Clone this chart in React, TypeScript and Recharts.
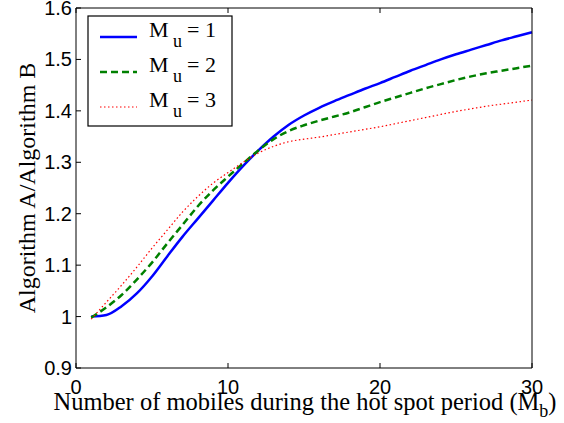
import { LineChart, Line, XAxis, YAxis } from "recharts";

const mobiles = [1, 2, 3, 4, 5, 6, 7, 8, 9, 10, 11, 12, 13, 14, 15, 16, 17, 18, 19, 20, 21, 22, 23, 24, 25, 26, 27, 28, 29, 30];

const mu1 = [1.0, 1.003, 1.02, 1.045, 1.078, 1.117, 1.155, 1.19, 1.225, 1.26, 1.293, 1.323, 1.35, 1.373, 1.391, 1.406, 1.419, 1.431, 1.443, 1.454, 1.466, 1.478, 1.489, 1.5, 1.51, 1.519, 1.528, 1.537, 1.545, 1.553];
const mu2 = [0.998, 1.018, 1.042, 1.072, 1.105, 1.142, 1.178, 1.214, 1.245, 1.272, 1.298, 1.323, 1.345, 1.361, 1.372, 1.381, 1.389, 1.397, 1.407, 1.417, 1.426, 1.435, 1.444, 1.452, 1.46, 1.467, 1.473, 1.478, 1.483, 1.488];
const mu3 = [0.995, 1.028, 1.061, 1.096, 1.133, 1.168, 1.203, 1.233, 1.259, 1.28, 1.3, 1.318, 1.331, 1.34, 1.345, 1.349, 1.354, 1.359, 1.364, 1.369, 1.375, 1.381, 1.387, 1.393, 1.399, 1.404, 1.409, 1.413, 1.417, 1.421];

const xTicks = [0, 10, 20, 30];
const yTicks = [0.9, 1, 1.1, 1.2, 1.3, 1.4, 1.5, 1.6];

const series = [
  { key: "mu1", sub: "1", color: "#0000ff", width: 2.5, dash: undefined },
  { key: "mu2", sub: "2", color: "#008000", width: 2.5, dash: "7 4" },
  { key: "mu3", sub: "3", color: "#ff0000", width: 1.2, dash: "1.5 2.5" },
];

const data = mobiles.map((m, i) => ({ m, mu1: mu1[i], mu2: mu2[i], mu3: mu3[i] }));

const serif = "'Liberation Serif', 'Times New Roman', serif";
const sans = "'Liberation Sans', Arial, sans-serif";

// matlab style: tick marks point into the plot box
function BottomTick(props: any) {
  const { x, y, payload } = props;
  return (
    <g>
      <line x1={x} x2={x} y1={y} y2={y - 5} stroke="#000" />
      <text x={x} y={y + 26} textAnchor="middle" fontFamily={sans} fontSize={20} fill="#000">
        {payload.value}
      </text>
    </g>
  );
}

function LeftTick(props: any) {
  const { x, y, payload } = props;
  return (
    <g>
      <line x1={x} x2={x + 5} y1={y} y2={y} stroke="#000" />
      <text x={x - 4} y={y + 7} textAnchor="end" fontFamily={sans} fontSize={20} fill="#000">
        {payload.value}
      </text>
    </g>
  );
}

function TopTick(props: any) {
  const { x, y } = props;
  return <line x1={x} x2={x} y1={y} y2={y + 5} stroke="#000" />;
}

function RightTick(props: any) {
  const { x, y } = props;
  return <line x1={x} x2={x - 5} y1={y} y2={y} stroke="#000" />;
}

function XLabel(props: any) {
  const vb = props.viewBox || { x: 76, y: 368, width: 456 };
  return (
    <text x={vb.x + vb.width / 2 + 1} y={vb.y + 42} textAnchor="middle" fontFamily={serif} fontSize={24.5} fill="#000">
      Number of mobiles during the hot spot period (M
      <tspan fontSize={18} dy={7}>b</tspan>
      <tspan dy={-7}>)</tspan>
    </text>
  );
}

function YLabel(props: any) {
  const vb = props.viewBox || { x: 0, y: 8, height: 360 };
  const cx = 35;
  const cy = vb.y + vb.height / 2;
  return (
    <text x={cx} y={cy} textAnchor="middle" fontFamily={serif} fontSize={24} fill="#000" transform={`rotate(-90, ${cx}, ${cy})`}>
      Algorithm A/Algorithm B
    </text>
  );
}

function LegendBox() {
  return (
    <svg width={146} height={112} style={{ position: "absolute", left: 87, top: 15 }}>
      <rect x={1} y={1} width={144} height={110} fill="#fff" stroke="#000" strokeWidth={1.2} />
      {series.map((s, i) => {
        const y = 22 + i * 35;
        return (
          <g key={s.key}>
            <line x1={13} x2={50} y1={y} y2={y} stroke={s.color} strokeWidth={s.width} strokeDasharray={s.dash} />
            <text x={62} y={y} fontFamily={serif} fontSize={22} fill="#000">M</text>
            <text x={86} y={y + 10} fontFamily={serif} fontSize={18} fill="#000">u</text>
            <text x={100} y={y} fontFamily={serif} fontSize={22} fill="#000">= {s.sub}</text>
          </g>
        );
      })}
    </svg>
  );
}

export default function App() {
  return (
    <div style={{ position: "absolute", left: 0, top: 0, width: 564, height: 423, background: "#fff" }}>
      <LineChart width={564} height={423} data={data} margin={{ top: 7, right: 31, left: 0, bottom: 0 }}>
        <XAxis
          xAxisId="b"
          dataKey="m"
          type="number"
          domain={[0, 30]}
          ticks={xTicks}
          interval={0}
          height={55}
          tickSize={0}
          tickMargin={0}
          tickLine={false}
          stroke="#000"
          tick={<BottomTick />}
          label={<XLabel />}
        />
        <XAxis
          xAxisId="t"
          orientation="top"
          dataKey="m"
          type="number"
          domain={[0, 30]}
          ticks={xTicks}
          interval={0}
          height={1}
          tickSize={0}
          tickMargin={0}
          tickLine={false}
          tick={<TopTick />}
          stroke="#000"
        />
        <YAxis
          yAxisId="l"
          type="number"
          domain={[0.9, 1.6]}
          ticks={yTicks}
          interval={0}
          width={76}
          tickSize={0}
          tickMargin={0}
          tickLine={false}
          stroke="#000"
          tick={<LeftTick />}
          label={<YLabel />}
        />
        <YAxis
          yAxisId="r"
          orientation="right"
          type="number"
          domain={[0.9, 1.6]}
          ticks={yTicks}
          interval={0}
          width={1}
          tickSize={0}
          tickMargin={0}
          tickLine={false}
          tick={<RightTick />}
          stroke="#000"
        />
        {series.map((s) => (
          <Line
            key={s.key}
            xAxisId="b"
            yAxisId="l"
            type="monotone"
            dataKey={s.key}
            stroke={s.color}
            strokeWidth={s.width}
            strokeDasharray={s.dash}
            dot={false}
            isAnimationActive={false}
          />
        ))}
      </LineChart>
      <LegendBox />
    </div>
  );
}
